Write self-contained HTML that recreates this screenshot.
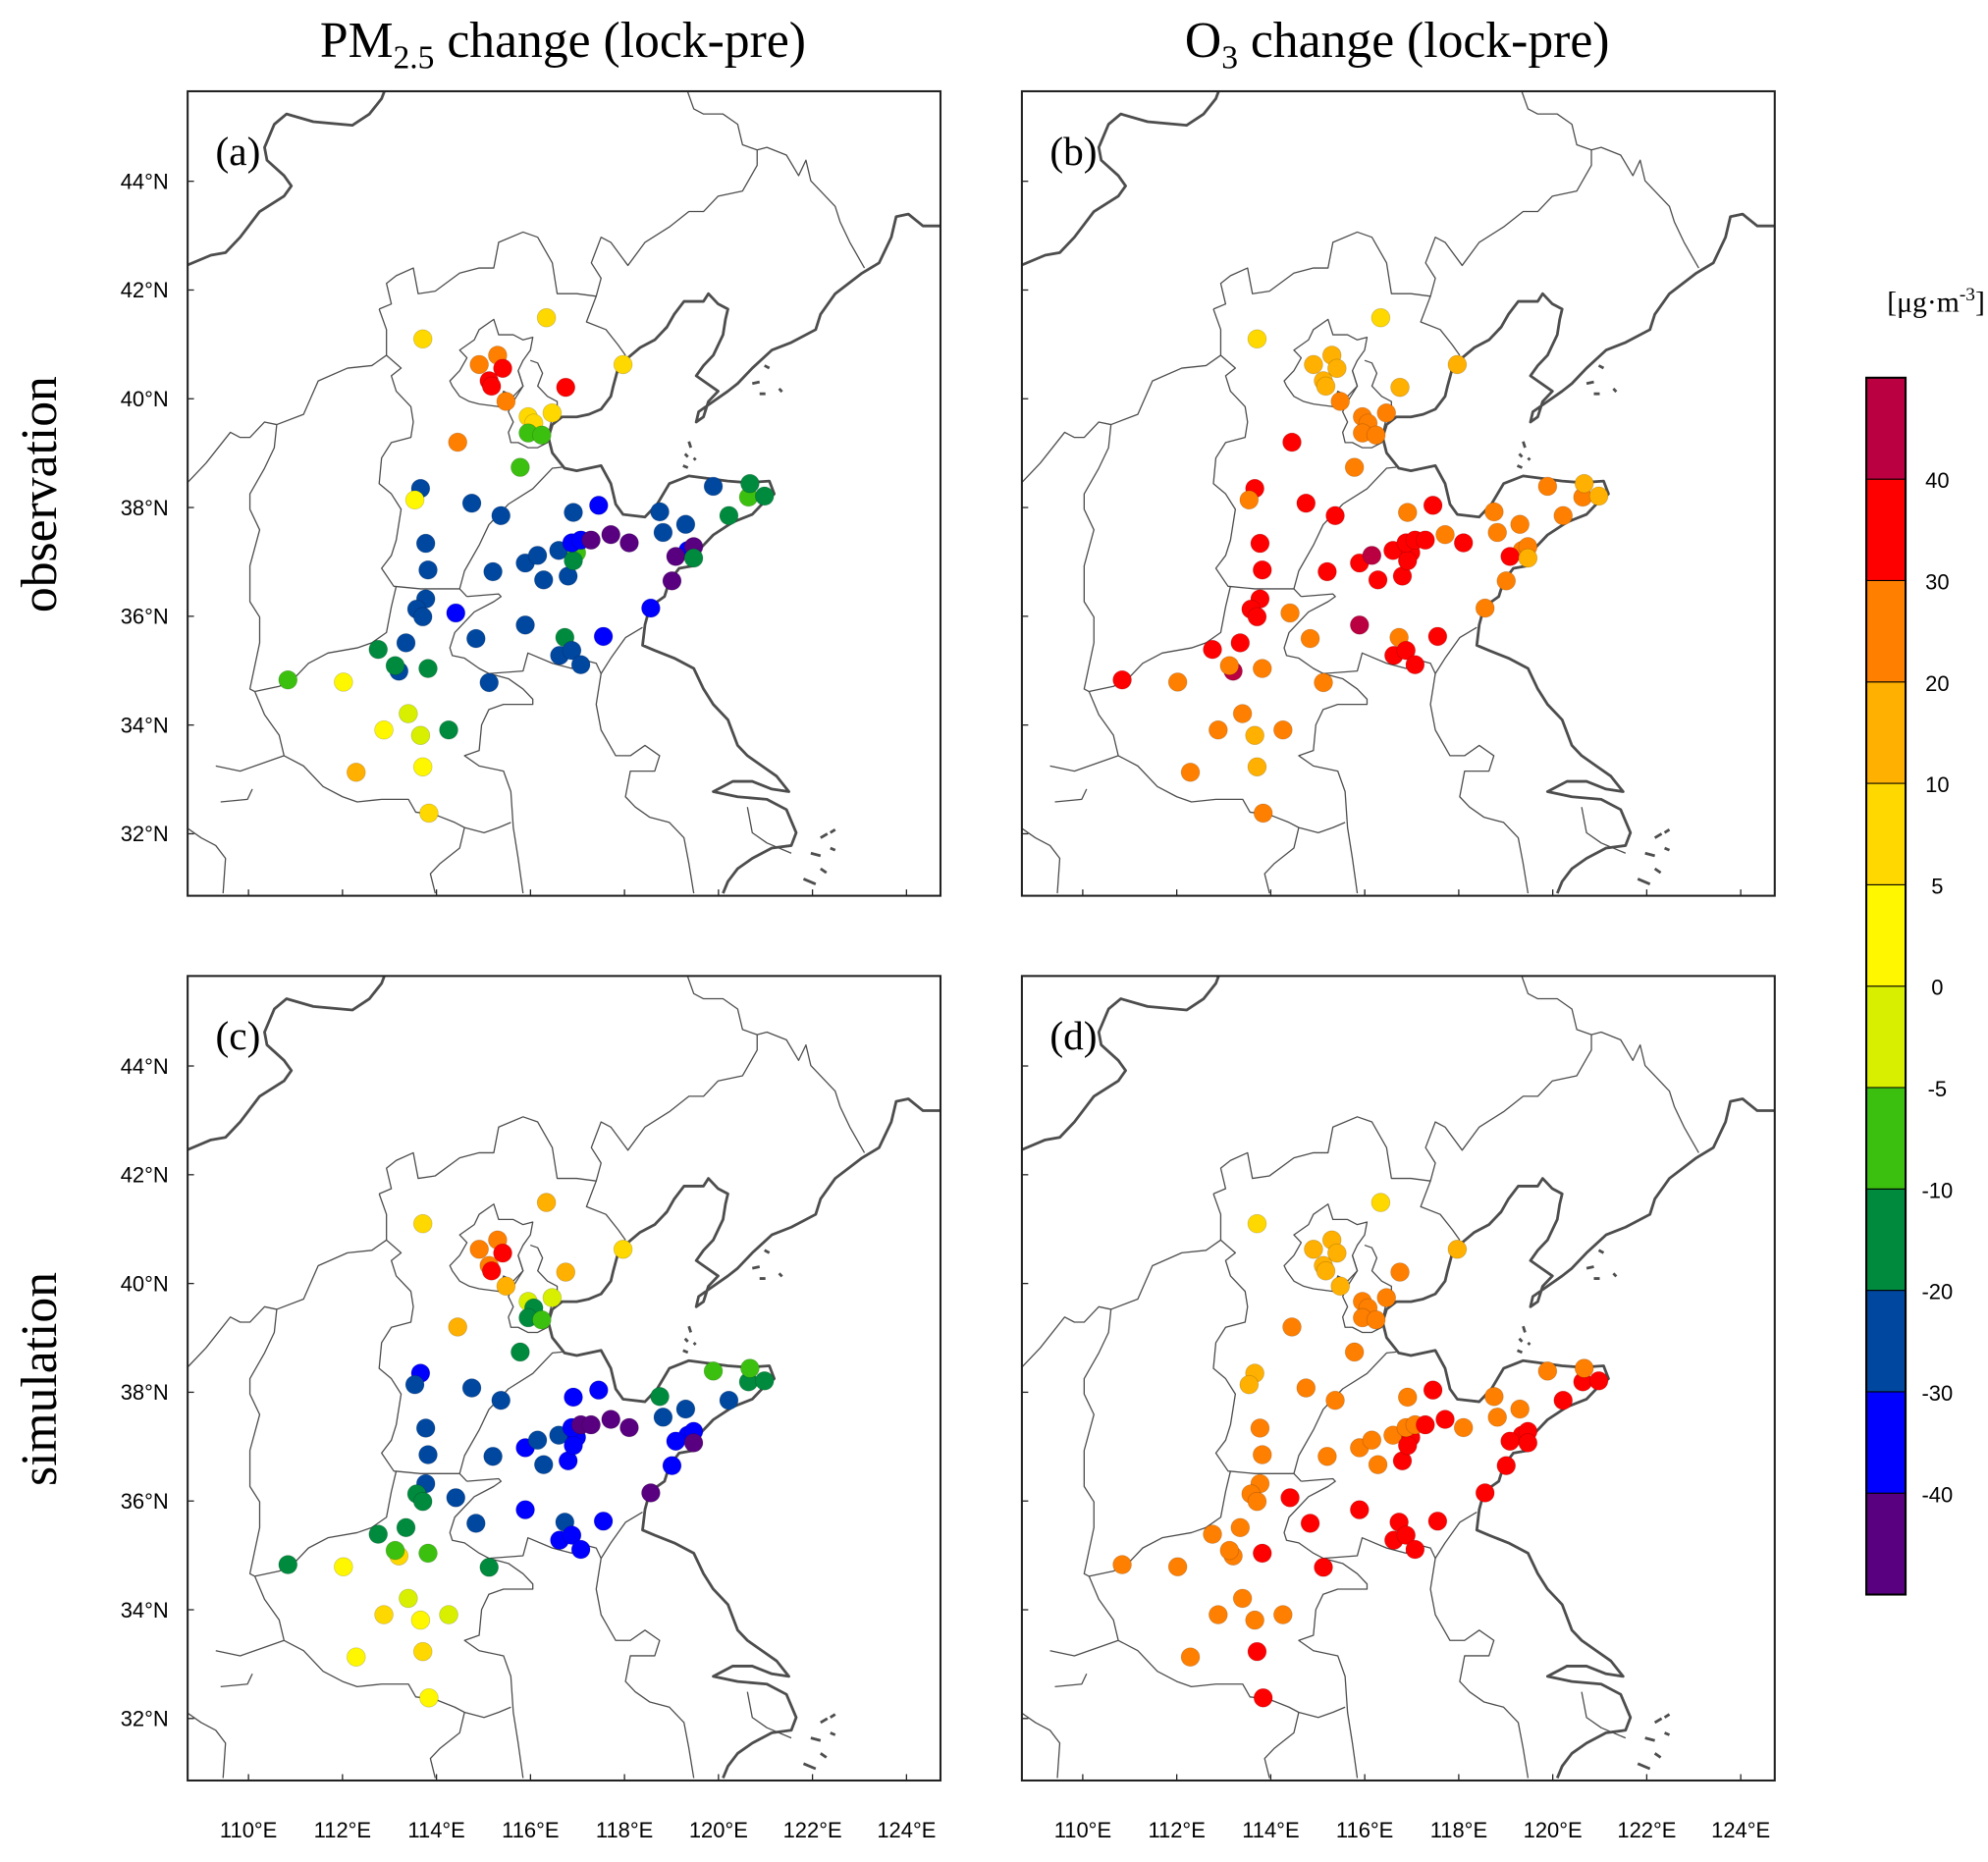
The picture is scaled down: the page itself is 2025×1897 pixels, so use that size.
<!DOCTYPE html>
<html>
<head>
<meta charset="utf-8">
<style>
html,body{margin:0;padding:0;background:#fff;}
svg{display:block;}
.tick{font-family:"Liberation Sans",sans-serif;font-size:17px;fill:#000;}
.ser{font-family:"Liberation Serif",serif;fill:#000;}
.thin{fill:none;stroke:#4d4d4d;stroke-width:1.3;vector-effect:non-scaling-stroke;stroke-linejoin:round;}
.thick{fill:none;stroke:#4d4d4d;stroke-width:2.8;vector-effect:non-scaling-stroke;stroke-linejoin:round;}
</style>
</head>
<body>
<svg id="fig" xmlns="http://www.w3.org/2000/svg" width="2025" height="1897" viewBox="0 0 1568 1469" preserveAspectRatio="none">
<defs>
<clipPath id="clipPanel"><rect x="148" y="72" width="593.8" height="634.7"/></clipPath>
<g id="mapbase">
<g transform="translate(147.1,69.7) scale(0.3847,0.405)">
<path class="thick" d="M0,345 L50,325 80,320 110,290 150,240 200,210 215,190 200,170 165,140 160,115 180,70 205,50 260,65 340,72 375,50 400,20 408,0"/>
<path class="thick" d="M1546,268 L1510,268 1480,245 1455,250 1445,290 1420,340 1385,360 1330,400 1300,440 1290,470 1240,495 1200,510 1160,545 1130,575 1110,590 1080,610 1050,630 1045,650 1060,640 1070,610 1090,590 1060,570 1045,560 1060,540 1080,520 1100,480 1105,450 1110,430 1090,420 1070,400 1060,415 1020,415 1000,440 985,465 960,490 930,505 905,525 885,545 875,580 870,600 850,625 825,635 800,640 770,640 750,655 742,680 750,710 775,740 800,745 850,735 870,770 880,810 895,830 940,835 965,810 990,770 1030,755 1070,760 1110,765 1150,768 1195,765 1205,790 1180,810 1160,830 1120,845 1080,870 1050,900 1040,930 1010,935 990,960 980,990 950,1010 940,1045 935,1085 960,1095 1000,1110 1040,1130 1060,1170 1080,1200 1110,1230 1130,1280 1150,1300 1180,1320 1210,1340 1235,1370 1200,1365 1160,1350 1120,1350 1080,1370 1130,1380 1190,1385 1230,1405 1250,1450 1240,1475 1200,1480 1160,1500 1130,1520 1110,1545 1100,1568"/>
<path class="thick" d="M1185,540 l10,5 M1160,575 l15,-3 M1215,585 l6,6 M1175,595 l12,0 M1030,688 l4,12 M1022,712 l6,6 M1018,735 l10,4 M1040,720 l4,4 M1300,1460 l14,-8 M1320,1450 l10,-6 M1280,1490 l20,5 M1300,1520 l12,8 M1265,1540 l25,10 M1320,1480 l10,4 M985,465 l-5,5"/>
<path class="thin" d="M395,430 L420,420 410,380 430,365 465,350 475,400 510,395 560,360 600,350 630,350 640,300 690,280 720,290 750,340 760,400 800,400 840,405 850,370 830,340 850,290 870,300 905,345 940,300 990,270 1030,240 1060,240 1090,210 1140,200 1170,150 1170,120 1140,110 1130,70 1100,50 1060,50 1040,40 1025,0"/>
<path class="thin" d="M1170,120 L1190,115 1230,130 1255,170 1270,140 1280,180 1330,230 1340,260 1360,300 1390,350"/>
<path class="thin" d="M840,405 L820,455 860,470 885,500 900,520"/>
<path class="thin" d="M600,470 L630,450 640,480 670,480 690,490 710,485 705,510 690,530 680,550 690,580 670,600 650,590 640,620 600,615 580,610 560,600 545,580 540,570 560,550 575,525 560,510 590,490 Z"/>
<path class="thin" d="M705,530 L720,535 730,555 720,580 740,600 760,610 760,630 750,640 745,660 740,690 720,700 700,700 680,690 665,690 660,670 670,650 660,630 670,610 690,580 680,550"/>
<path class="thin" d="M395,430 L410,470 410,520 440,545 420,560 430,590 460,620 465,650 460,680 420,690 400,720 395,770 420,790 440,820 430,880 420,910 400,935 425,970 480,975 560,975 575,990"/>
<path class="thin" d="M0,770 L40,730 90,670 110,680 130,680 160,650 185,655 180,700 160,740 130,790 130,820 150,860 130,930 130,1000 150,1030 150,1080 130,1170 140,1175"/>
<path class="thin" d="M185,655 L240,635 270,570 330,545 380,540 410,520"/>
<path class="thin" d="M140,1175 L190,1165 220,1150 250,1120 290,1100 350,1090 380,1080 410,1060 420,1010 430,970"/>
<path class="thin" d="M560,975 L570,940 600,890 620,850 660,810 710,780 750,740 770,738"/>
<path class="thin" d="M575,990 L640,985 645,990 630,1000 590,1020 550,1060 540,1090 545,1105 570,1110 600,1130 620,1140 690,1135 700,1100 750,1120 790,1130 800,1110 840,1120 850,1140 870,1110 900,1070 935,1050"/>
<path class="thin" d="M620,1140 L660,1150 690,1170 710,1190 710,1200 650,1200 620,1210 605,1240 600,1290 570,1300 600,1320 650,1330 665,1370 670,1440 680,1500 690,1568"/>
<path class="thin" d="M140,1175 L160,1220 190,1260 200,1300 240,1320 280,1360 320,1380 350,1390 400,1385 455,1385 470,1410 510,1415 550,1430 570,1440 610,1450 640,1440 665,1430"/>
<path class="thin" d="M60,1320 L110,1330 170,1310 200,1300 M0,1440 L30,1460 60,1475 80,1500 75,1568 M70,1390 L125,1385 135,1365"/>
<path class="thin" d="M850,1140 L840,1200 850,1250 880,1300 910,1300 940,1280 970,1300 960,1330 910,1330 900,1380 920,1400 950,1420 990,1430 1020,1460 1030,1510 1040,1568"/>
<path class="thin" d="M570,1440 L560,1480 520,1510 500,1530 510,1568 M1150,1400 L1160,1450 1190,1470 1240,1490"/>
</g>
</g>
</defs>

<text class="ser" x="444" y="45" font-size="40" text-anchor="middle">PM<tspan font-size="26" dy="9">2.5</tspan><tspan dy="-9"> change (lock-pre)</tspan></text>
<text class="ser" x="1102" y="45" font-size="40" text-anchor="middle">O<tspan font-size="26" dy="9">3</tspan><tspan dy="-9"> change (lock-pre)</tspan></text>
<text class="ser" transform="translate(44,390) rotate(-90)" font-size="40" text-anchor="middle">observation</text>
<text class="ser" transform="translate(44,1088) rotate(-90)" font-size="40" text-anchor="middle">simulation</text>
<text class="ser" x="1527" y="246" font-size="23" text-anchor="middle">[μg·m<tspan font-size="15" dy="-9">-3</tspan><tspan dy="9">]</tspan></text>
<g id="panels"></g>
<g id="colorbar"></g>
</svg>
<script>
const levels = [-40,-30,-20,-10,-5,0,5,10,20,30,40];
const binColors = ["#58007f","#0000ff","#0047a0","#008a3e","#3cc010","#d8f000","#fff700","#ffd800","#ffb000","#ff7f00","#ff0000","#ba0040"];
const cbLabels = ["-40","-30","-20","-10","-5","0","5","10","20","30","40"];
const latTicks = [44,42,40,38,36,34,32];
const lonTicks = [110,112,114,116,118,120,122,124];
const siteLon = [113.71,116.34,117.97,114.91,115.30,115.41,115.12,115.17,115.48,116.75,115.95,116.07,116.46,115.95,116.24,114.45,115.78,113.66,113.54,114.75,115.37,113.77,113.82,113.77,113.58,113.71,114.41,115.20,115.89,116.15,116.28,116.60,116.80,116.91,117.45,116.98,116.91,116.88,117.07,117.29,117.71,118.10,118.75,118.82,119.30,119.89,120.64,120.98,120.67,120.22,119.35,119.09,119.47,119.47,119.01,118.56,115.89,114.84,117.55,116.73,116.62,116.88,117.07,115.12,113.35,112.76,113.20,113.12,113.82,110.84,112.02,113.40,112.88,113.66,114.26,112.29,113.71,113.84];
const siteLat = [41.10,41.49,40.63,40.63,40.80,40.56,40.33,40.23,39.95,40.21,39.67,39.55,39.74,39.37,39.33,39.20,38.74,38.35,38.14,38.08,37.85,37.34,36.85,36.32,36.13,35.99,36.06,36.82,36.98,37.12,36.67,37.21,36.74,37.91,38.04,37.17,37.02,37.35,37.40,37.40,37.50,37.35,37.92,37.54,37.69,38.39,38.19,38.21,38.44,37.85,37.21,37.10,37.28,37.07,36.65,36.15,35.84,35.59,35.63,35.61,35.28,35.37,35.11,34.78,35.51,35.39,34.99,35.09,35.04,34.83,34.79,34.21,33.91,33.81,33.91,33.13,33.23,32.38];
const pmObs = [7,7,7,25,25,35,35,35,25,35,7,7,7,-7,-7,25,-7,-25,2,-25,-25,-25,-25,-25,-25,-25,-35,-25,-25,-25,-25,-25,-25,-25,-35,-7,-15,-35,-35,-45,-45,-45,-25,-25,-25,-25,-7,-15,-15,-15,-35,-45,-45,-15,-45,-35,-25,-25,-35,-15,-25,-25,-25,-25,-25,-15,-25,-15,-15,-7,2,-2,2,-2,-15,15,2,7];
const o3Obs = [7,7,15,15,15,15,15,15,25,15,25,25,25,25,25,35,25,35,25,35,35,35,35,35,35,35,25,35,35,45,35,35,35,25,35,35,35,35,35,35,25,35,25,25,25,25,25,15,15,25,25,35,25,15,25,25,45,25,35,25,35,35,35,25,35,35,45,25,25,35,25,25,25,15,25,25,15,25];
const pmSim = [7,15,7,25,25,35,25,35,15,15,-2,-15,-2,-15,-7,15,-15,-35,-25,-25,-25,-25,-25,-25,-15,-15,-25,-25,-35,-25,-25,-25,-35,-35,-35,-35,-35,-35,-45,-45,-45,-45,-15,-25,-25,-7,-15,-15,-7,-25,-35,-35,-35,-45,-35,-45,-35,-25,-35,-25,-35,-35,-35,-15,-15,-15,7,-7,-7,-15,2,-2,7,2,-2,2,7,2];
const o3Sim = [7,7,15,15,15,15,15,15,15,25,25,25,25,25,25,25,25,15,15,25,25,25,25,25,25,25,35,25,25,25,25,25,35,25,35,35,35,25,25,35,35,25,25,25,25,25,35,35,25,35,35,35,35,35,35,35,35,35,35,35,35,35,35,35,25,25,25,25,35,25,25,25,25,25,25,25,35,35];

const NS = "http://www.w3.org/2000/svg";
const PX0 = 148, PY0 = 72, PW = 593.8, PH = 634.7;
function xScale(lon){ return 196 + (lon - 110) * 37.07; }
function yScale(lat){ return 143 + (44 - lat) * 42.9; }
function colorFor(v){ let i = 0; while (i < levels.length && v >= levels[i]) i++; return binColors[i]; }
function mk(tag, attrs, parent){ const e = document.createElementNS(NS, tag); for (const k in attrs) e.setAttribute(k, attrs[k]); parent.appendChild(e); return e; }

const panels = [
  {dx:0, dy:0, vals:pmObs, label:"(a)", name:"panel-a-pm25-observation", left:true, bottom:false},
  {dx:658, dy:0, vals:o3Obs, label:"(b)", name:"panel-b-o3-observation", left:false, bottom:false},
  {dx:0, dy:698, vals:pmSim, label:"(c)", name:"panel-c-pm25-simulation", left:true, bottom:true},
  {dx:658, dy:698, vals:o3Sim, label:"(d)", name:"panel-d-o3-simulation", left:false, bottom:true}
];
const root = document.getElementById("panels");
panels.forEach(p => {
  const g = mk("g", {transform:`translate(${p.dx},${p.dy})`}, root);
  
  
  const inner = mk("g", {"clip-path":"url(#clipPanel)"}, g);
  const m = mk("use", {href:"#mapbase"}, inner);
  
  
  const dots = mk("g", {}, inner);
  
  
  p.vals.forEach((v, i) => {
    const c = mk("circle", {cx:xScale(siteLon[i]).toFixed(1), cy:yScale(siteLat[i]).toFixed(1), r:7.3, fill:colorFor(v), stroke:"rgba(0,0,0,0.18)", "stroke-width":0.6}, dots);
    
    
  });
  const fr = mk("rect", {x:PX0, y:PY0, width:PW, height:PH, fill:"none", stroke:"#222", "stroke-width":1.6}, g);
  
  
  const lb = mk("text", {x:170, y:130, class:"ser", "font-size":32}, g);
  lb.textContent = p.label;
  
  
  latTicks.forEach(t => {
    const y = yScale(t);
    mk("line", {x1:PX0, x2:PX0+5, y1:y, y2:y, stroke:"#222", "stroke-width":1}, g);
    if (p.left) {
      const tx = mk("text", {x:133, y:y+6, class:"tick", "text-anchor":"end"}, g);
      tx.textContent = t + "°N";
      
      
    }
  });
  lonTicks.forEach(t => {
    const x = xScale(t);
    mk("line", {x1:x, x2:x, y1:PY0+PH, y2:PY0+PH-5, stroke:"#222", "stroke-width":1}, g);
    if (p.bottom) {
      const tx = mk("text", {x:x, y:PY0+PH+45, class:"tick", "text-anchor":"middle"}, g);
      tx.textContent = t + "°E";
      
      
    }
  });
});

const cb = document.getElementById("colorbar");
const CBX = 1472, CBW = 31, CBT = 298, CBH = 960;
const binH = CBH / binColors.length;
binColors.forEach((c, i) => {
  const r = mk("rect", {x:CBX, y:CBT + CBH - (i+1)*binH, width:CBW, height:binH, fill:c, stroke:"#000", "stroke-width":0.8}, cb);
  
  
});
mk("rect", {x:CBX, y:CBT, width:CBW, height:CBH, fill:"none", stroke:"#000", "stroke-width":1.6}, cb);
cbLabels.forEach((l, i) => {
  const t = mk("text", {x:1528, y:CBT + CBH - (i+1)*binH + 7, class:"tick", "text-anchor":"middle", "font-size":19}, cb);
  t.textContent = l;
  
  
});
</script>
</body>
</html>
